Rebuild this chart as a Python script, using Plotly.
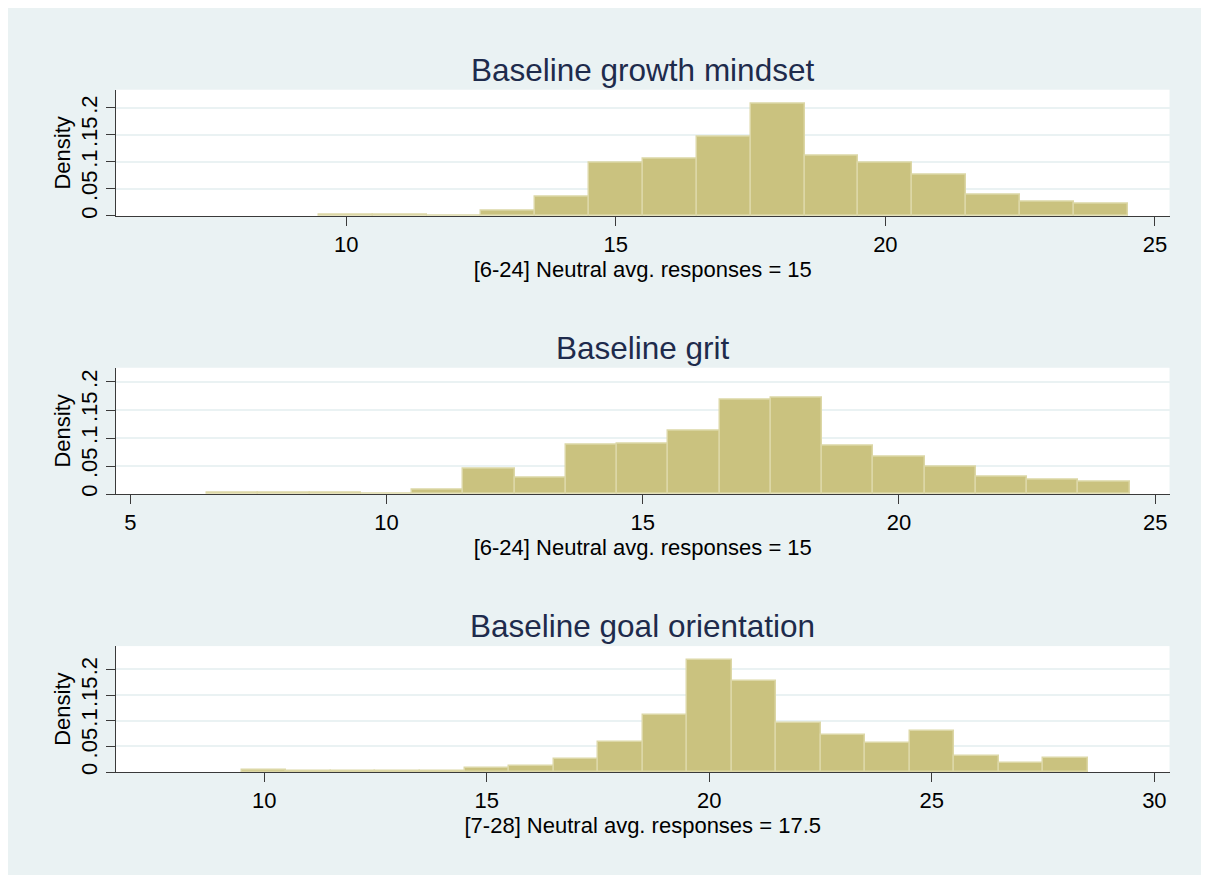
import plotly.graph_objects as go

# ---------------- data ----------------
titles = ["Baseline growth mindset", "Baseline grit", "Baseline goal orientation"]
xlabels = ["[6-24] Neutral avg. responses = 15",
           "[6-24] Neutral avg. responses = 15",
           "[7-28] Neutral avg. responses = 17.5"]

mindset_bins = [10, 11, 12, 13, 14, 15, 16, 17, 18, 19, 20, 21, 22, 23, 24]
mindset_density = [0.0027, 0.0027, 0.0013, 0.0106, 0.0353, 0.0990, 0.1067, 0.1470,
                   0.2077, 0.1115, 0.0980, 0.0770, 0.0385, 0.0273, 0.0236]

grit_bins = [7, 8, 9, 10, 11, 12, 13, 14, 15, 16, 17, 18, 19, 20, 21, 22, 23, 24]
grit_density = [0.0015, 0.0015, 0.0015, 0.0008, 0.0077, 0.0443, 0.0284, 0.0887, 0.0898,
                0.1123, 0.1690, 0.1714, 0.0863, 0.0668, 0.0479, 0.0301, 0.0254, 0.0219]

goal_bins = [10, 11, 12, 13, 14, 15, 16, 17, 18, 19, 20, 21, 22, 23, 24, 25, 26, 27, 28]
goal_density = [0.0032, 0.0013, 0.0013, 0.0013, 0.0013, 0.0071, 0.0116, 0.0258, 0.0575,
                0.1117, 0.2177, 0.1764, 0.0962, 0.0717, 0.0555, 0.0807, 0.0303, 0.0181, 0.0265]

x_ticks = [[10, 15, 20, 25], [5, 10, 15, 20, 25], [10, 15, 20, 25, 30]]
x_ranges = [[5.73, 25.27], [4.72, 25.28], [6.67, 30.34]]
y_ranges = [[0, 0.2338], [0, 0.2254], [0, 0.2455]]
y_tickvals = [0, 0.05, 0.1, 0.15, 0.2]
y_ticktext = ["0", ".05", ".1", ".15", ".2"]

# ---------------- layout geometry (pixels, figure coords) ----------------
W, H = 1209, 875
OFF = 8  # page body margin seen in the reference
plot_left, plot_right = 116 - OFF, 1169.5 - OFF
panel_top = [p - OFF for p in (90, 369, 648.3)]
panel_zero = [p - OFF for p in (216.7, 495.7, 774.7)]

FONT = "Liberation Sans, Arial, sans-serif"
BAR_FILL = "#CAC27F"
BAR_LINE = "#DCD7A6"
BG = "#EAF2F3"
AXIS = "#3a3a3a"
TITLE_COLOR = "#1E2B4C"

series = [(mindset_bins, mindset_density), (grit_bins, grit_density), (goal_bins, goal_density)]

fig = go.Figure()
layout = dict(
    width=W, height=H, autosize=False,
    margin=dict(l=0, r=0, t=0, b=0),
    paper_bgcolor=BG, plot_bgcolor="white",
    showlegend=False, bargap=0,
    font=dict(family=FONT, size=22, color="black"),
    annotations=[],
)

for i, (bins, dens) in enumerate(series):
    n = "" if i == 0 else str(i + 1)
    fig.add_trace(go.Bar(
        x=bins, y=dens, width=1,
        marker=dict(color=BAR_FILL, line=dict(color=BAR_LINE, width=1.5)),
        xaxis="x" + n, yaxis="y" + n, hoverinfo="x+y",
    ))
    ydom = [1 - panel_zero[i] / H, 1 - panel_top[i] / H]
    layout["xaxis" + n] = dict(
        domain=[plot_left / W, plot_right / W], anchor="y" + n,
        range=x_ranges[i], tickvals=x_ticks[i],
        showline=True, linecolor=AXIS, linewidth=1,
        ticks="outside", ticklen=9, tickwidth=1, tickcolor=AXIS,
        showgrid=False, zeroline=False,
        tickfont=dict(size=22, color="black"),
        title=dict(text=xlabels[i], font=dict(size=22, color="black"), standoff=0),
    )
    layout["yaxis" + n] = dict(
        domain=ydom, anchor="x" + n,
        range=y_ranges[i], tickvals=y_tickvals, ticktext=y_ticktext,
        tickangle=-90,
        showline=True, linecolor=AXIS, linewidth=1,
        ticks="outside", ticklen=9, tickwidth=1, tickcolor=AXIS,
        showgrid=True, gridcolor=BG, gridwidth=1.5, zeroline=False,
        tickfont=dict(size=22, color="black"),
        title=dict(text="Density", font=dict(size=22, color="black"), standoff=0),
    )
    layout["annotations"].append(dict(
        text=titles[i], xref="paper", yref="paper",
        x=(plot_left + plot_right) / 2 / W, y=1 - (panel_top[i] - 20) / H,
        xanchor="center", yanchor="middle", showarrow=False,
        font=dict(size=31.5, color=TITLE_COLOR, family=FONT),
    ))

fig.update_layout(**layout)
fig.write_html("out.html")
